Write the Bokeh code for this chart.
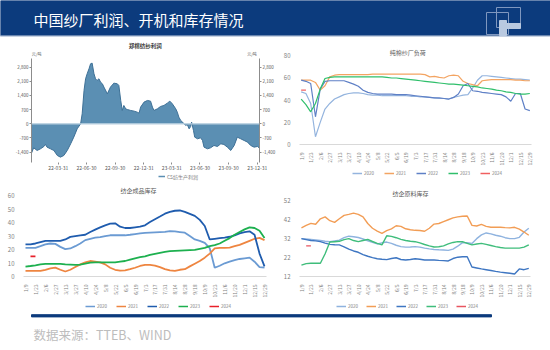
import pandas as pd
from math import pi
from bokeh.plotting import figure
from bokeh.layouts import column, row
from bokeh.models import (LinearAxis, Range1d, FixedTicker, Label, Legend, LegendItem,
                          Span, NumeralTickFormatter)
from bokeh.embed import file_html
from bokeh.resources import INLINE

CJK = "Noto Sans CJK SC"

# ---------------- data ----------------
profit_dates = ["2022-01-04", "2022-01-11", "2022-01-22", "2022-02-02", "2022-02-13", "2022-02-18",
                "2022-02-23", "2022-03-06", "2022-03-17", "2022-03-28", "2022-04-07", "2022-04-18",
                "2022-04-29", "2022-05-10", "2022-05-20", "2022-05-31", "2022-06-11", "2022-06-16",
                "2022-06-22", "2022-06-27", "2022-07-02", "2022-07-08", "2022-07-13", "2022-07-18",
                "2022-07-24", "2022-07-29", "2022-08-03", "2022-08-09", "2022-08-14", "2022-08-20",
                "2022-08-25", "2022-09-05", "2022-09-15", "2022-09-26", "2022-10-07", "2022-10-12",
                "2022-10-18", "2022-10-23", "2022-10-28", "2022-11-03", "2022-11-08", "2022-11-19",
                "2022-11-30", "2022-12-10", "2022-12-16", "2022-12-21", "2023-01-01", "2023-01-12",
                "2023-01-22", "2023-01-28", "2023-02-02", "2023-02-13", "2023-02-23", "2023-03-06",
                "2023-03-17", "2023-03-25", "2023-04-02", "2023-04-13", "2023-04-18", "2023-04-23",
                "2023-04-29", "2023-05-10", "2023-05-15", "2023-05-20", "2023-05-26", "2023-05-31",
                "2023-06-03", "2023-06-09", "2023-06-13", "2023-06-22", "2023-07-02", "2023-07-08",
                "2023-07-13", "2023-07-24", "2023-08-03", "2023-08-14", "2023-08-25", "2023-09-05",
                "2023-09-15", "2023-09-26", "2023-10-07", "2023-10-18", "2023-10-28", "2023-11-08",
                "2023-11-19", "2023-11-30", "2023-12-10", "2023-12-21", "2024-01-01", "2024-01-06"]
profit_values = [-1450, -1186, -1318, -1235, -1120, -1021, -1153, -1235, -1318, -1565, -1647, -1565,
                 -1318, -988, -659, -247, 0, 494, 1647, 2223, 2470, 2718, 2965, 2998,
                 2470, 2223, 2141, 2223, 2059, 1976, 1812, 1482, 1812, 2009, 1976, 1894,
                 1153, 659, 906, 741, 708, 659, 626, 576, 527, 824, 1071, 1153,
                 1120, 824, 659, 741, 856, 906, 1021, 1120, 988, 741, 576, 329,
                 165, 0, -82, -33, -247, -132, 82, -329, -659, -741, -692, -824,
                 -1153, -1235, -1186, -1071, -1120, -988, -1021, -1153, -1318, -1071, -659, -741,
                 -824, -906, -1071, -1153, -1120, -1186]
profit_ticks = [-1400, -700, 0, 700, 1400, 2100, 2800]
profit_xlabels = ["22-03-31", "22-06-30", "22-09-30", "22-12-31",
                  "23-03-31", "23-06-30", "23-09-30", "23-12-31"]
profit_name = "CS纺生产利润"

weeks = ["1/9", "1/16", "1/23", "1/30", "2/6", "2/20", "2/27", "3/6", "3/13", "3/20", "3/27",
         "4/3", "4/10", "4/17", "4/24", "5/1", "5/8", "5/15", "5/22", "5/29", "6/5", "6/12",
         "6/19", "6/26", "7/3", "7/10", "7/17", "7/24", "7/31", "8/7", "8/14", "8/21", "8/28",
         "9/11", "9/18", "9/25", "10/9", "10/16", "10/23", "10/30", "11/6", "11/13", "11/20",
         "11/27", "12/1", "12/8", "12/15", "12/22", "12/29"]
years = ["2020", "2021", "2022", "2023", "2024"]

# 纯棉纱厂负荷
load_2020 = [47.5, 46, 37, 7, 20, 32, 37, 41, 43, 45, 46, 46.5, 46.5, 46, 45, 44.5, 44.5, 44, 44, 44,
             44, 44, 44, 43.5, 43.5, 43, 43, 42.5, 42, 41.5, 41.5, 41, 42.5, 43.5, 44.5, 45, 51, 58,
             62, 62, 61.5, 61, 60.5, 60, 59.5, 59, 59, 58.5, 58]
load_2021 = [58, 58, 58, 56, 49, 53, 61, 62.5, 63, 63, 63, 63, 63, 63, 63, 63.5, 63.5, 63.5, 63.5,
             63.5, 63.5, 63.5, 63.5, 63.5, 63.5, 63.5, 63, 61, 61.5, 60.5, 60, 62, 62.5, 62, 57, 55,
             54, 53, 57.5, 58, 58.5, 58.5, 58.5, 58.5, 58.5, 58, 58, 57.5, 57.5]
load_2022 = [58, 57, 55, 25, 50, 57, 57.5, 57.5, 57.5, 57.5, 56, 54.5, 52.5, 49, 47, 46, 45.5, 45.5,
             45.5, 45.5, 45, 45, 45, 44.5, 44, 43.5, 43, 42.5, 42, 42, 41.5, 41, 42.5, 45.5, 53, 55,
             48.5, 48, 47, 46.5, 46, 45.5, 45, 43, 39, 46, 46, 32, 30.5]
load_2023 = [41, 36, 29.5, 37, 50, 59.5, 60.5, 61, 61, 61, 61, 61, 61, 61, 61, 61, 61, 61, 60.5, 60,
             60, 59.5, 59, 58.5, 58, 57.5, 57, 56.5, 56, 55.5, 55, 54.5, 54.5, 54, 53.5, 53, 52.5,
             52, 51, 50.5, 50, 49, 48.5, 47.5, 47, 46, 45.5, 45.5, 46]
load_2024 = [49, 49]
load_2024_idx = [0, 1]

# 纺企成品库存
fin_2020 = [21.3, 21.3, 21.3, 22.5, 23.8, 24.5, 24.2, 22, 20.3, 20.8, 22.5, 24.5, 27, 28, 28.8, 29.2,
            30, 30.6, 30.6, 30.6, 30.6, 31, 31.5, 32, 32.4, 32.6, 32.8, 33, 33.1, 33.6, 33.5, 33,
            32.5, 30, 27.5, 26.5, 25, 21, 6.5, 8, 9.8, 11, 12.2, 13, 13.5, 14, 11, 7, 6.6]
fin_2021 = [4.2, 4.2, 4.2, 4.2, 5, 6, 6.6, 5, 3.7, 5, 7, 9, 10.5, 11.5, 11, 10.5, 9, 6.5, 5, 4.4,
            4.6, 5.4, 6.5, 7.8, 8.6, 8.6, 8.1, 7, 5.5, 4.5, 4.2, 5, 5.4, 7.5, 9.5, 11.5, 14, 17,
            20.8, 21.3, 21.3, 21.5, 22.5, 23.5, 25, 26.5, 28, 28.7, 27]
fin_2022 = [23.8, 23.8, 24.5, 25.5, 26.5, 26.5, 26.5, 26.5, 27.5, 29.4, 30, 30.5, 31, 33, 34.8,
            36.5, 38, 39.2, 39.5, 37, 36, 36, 36.5, 37, 38, 40.4, 42.5, 44.5, 46.6, 48, 48.8, 49,
            48, 46.5, 45, 42, 37.5, 27.5, 28, 28.5, 28.8, 29.5, 30.5, 32, 33, 33.5, 31, 17, 7.5]
fin_2023 = [7.4, 7.8, 8.3, 9, 9.3, 9.3, 9.3, 9.3, 9, 8.8, 8.6, 8.8, 9.5, 10.3, 10.5, 10.5, 10.5,
            10.5, 10.5, 11, 11.5, 12.5, 13.5, 14.3, 15, 16, 16.8, 17.5, 18.2, 18.8, 19, 19.2, 19.4,
            19.6, 19.8, 20.5, 21.2, 22.5, 23.3, 24.5, 26.5, 28.5, 31, 33, 35, 36.5, 36, 34, 28.5]
fin_2024 = [15, 15]
fin_2024_idx = [1, 2]

# 纺企原料库存
raw_2020 = [32, 31.8, 31.6, 31.3, 31, 30.6, 30.4, 30.8, 31.2, 32.5, 33.3, 33, 32.6, 31.8, 30.9, 30,
            29.2, 29.8, 30.2, 29.5, 28.5, 27.8, 27.5, 27.6, 27.8, 27.5, 27, 26.6, 26.3, 26.1, 26,
            25.8, 26.5, 28, 29.9, 29.8, 29.5, 32, 34, 35, 34.5, 33.8, 33.3, 32.5, 32, 32, 32.7,
            35.5, 37.5]
raw_2021 = [37.7, 39, 40.1, 39.6, 42.5, 43.5, 41.5, 40.6, 42.5, 44.3, 44.8, 45.5, 44.8, 43.5, 40,
            37.5, 36, 34.8, 36.2, 37.2, 38.8, 38.5, 37.2, 36.7, 36.4, 36.3, 35.9, 37.5, 39.7, 40, 41,
            42, 43, 43.5, 43.8, 44, 39, 38.7, 39.5, 38.5, 38, 38, 38, 37.8, 37.7, 38, 37, 35.5, 33.8]
raw_2022 = [32, 31.5, 31, 30.8, 30.4, 29.6, 29, 28.8, 28.7, 27.7, 26.5, 25.5, 24.8, 23.6, 22.7, 22,
            21.4, 21.1, 20.9, 21.5, 21.9, 21, 20.7, 21, 21.4, 21.1, 20.7, 20.7, 20.7, 20.5, 20.4,
            20.2, 21.5, 22.2, 22.4, 22.4, 17, 16.5, 16, 15.6, 15.2, 14.7, 14.3, 14, 13.7, 13.3, 16,
            15.6, 16.3]
raw_2023 = [18, 18.8, 19, 19, 19, 24, 30.2, 30.4, 30.6, 31.5, 32, 31, 30.4, 31, 31.6, 30.5, 29.5,
            28.7, 33.5, 33.2, 32.5, 31.6, 31, 30.6, 30.4, 29.8, 28.9, 28.2, 27.6, 27.7, 28.2, 29.2,
            30, 30.4, 30.4, 29.5, 28.7, 29.2, 29.5, 29, 28.4, 27.8, 27.3, 27, 27, 27, 27, 27.5, 28.7]
raw_2024 = [28.2, 28.2]
raw_2024_idx = [1, 2]

BLUE = "#0c3b7d"
GREY_TXT = "#7f7f7f"
TR_COLORS = ["#94b4de", "#f3a462", "#5f80c6", "#2fbf6b", "#f06060"]
BL_COLORS = ["#6b9bd3", "#ee8540", "#1f5cae", "#1db04f", "#e8202a"]
BR_COLORS = ["#8fb3df", "#f29d55", "#3e76c2", "#3fbd7b", "#e85560"]
AREA_FILL = "#5b8fb3"


def bare(fig):
    fig.outline_line_color = None
    fig.grid.visible = False
    fig.background_fill_color = "white"
    fig.border_fill_color = "white"


def panel_fig(w, h):
    f = figure(width=w, height=h, x_range=Range1d(0, w), y_range=Range1d(0, h),
               output_backend="svg", toolbar_location=None, min_border=0,
               x_axis_location=None, y_axis_location=None)
    bare(f)
    return f


def legend_strip(w, h, labels, colors, loc, spacing, glyph_width=10, font="4.5px"):
    s = panel_fig(w, h)
    items = []
    for lab, col in zip(labels, colors):
        # sample-only renderer placed outside the visible range
        r = s.line(x=[-20, -10], y=[-20, -20], line_color=col, line_width=1.5)
        items.append(LegendItem(label=lab, renderers=[r]))
    s.add_layout(Legend(items=items, location=loc, orientation="horizontal", padding=0,
                        margin=0, spacing=spacing, glyph_width=glyph_width, glyph_height=6,
                        label_standoff=2, label_height=6, label_width=12,
                        label_text_font_size=font, label_text_font=CJK,
                        label_text_color=GREY_TXT, border_line_color=None,
                        background_fill_alpha=0))
    return s


# ---------------- header ----------------
hdr = panel_fig(550, 37)
hdr.quad(left=[0], right=[550], bottom=[2], top=[37], color=BLUE)
hdr.quad(left=[0], right=[550], bottom=[0.5], top=[1.5], color="#c8d2e2")
hdr.add_layout(Label(x=33, y=18.5, text="中国纱厂利润、开机和库存情况", text_color="white",
                     text_font_size="15px", text_font=CJK, text_baseline="middle"))
hdr.quad(left=[486], right=[508], bottom=[3], top=[25], fill_color=None, line_color="#7f97bf",
         line_width=1)
hdr.quad(left=[496], right=[520], bottom=[10], top=[30], fill_color=None, line_color="#7f97bf",
         line_width=1)
hdr.quad(left=[499, 506], right=[506, 520], bottom=[2, 9], top=[17, 14], color="#b9c9e0")

# ---------------- top-left: profit ----------------
base = pd.Timestamp("2022-01-01")
px = [(pd.Timestamp(d) - base).days for d in profit_dates]
tick_x = [(pd.Timestamp("20" + s) - base).days for s in profit_xlabels]

tl = figure(width=280, height=136, x_range=Range1d(3, 736.4), y_range=Range1d(-1912, 4066),
            output_backend="svg", toolbar_location=None,
            min_border_left=31, min_border_right=21, min_border_top=4, min_border_bottom=11)
bare(tl)
tl.varea(x=px, y1=0, y2=profit_values, fill_color=AREA_FILL)
tl.line(x=px, y=profit_values, line_color="#3e7096", line_width=1)
tl.add_layout(Span(location=0, dimension="width", line_color="#b9d0e0", line_width=1.2))
tl.yaxis.ticker = FixedTicker(ticks=profit_ticks)
tl.yaxis.formatter = NumeralTickFormatter(format="0,0")
ra = LinearAxis(ticker=FixedTicker(ticks=profit_ticks), formatter=NumeralTickFormatter(format="0,0"))
tl.add_layout(ra, "right")
tl.xaxis.ticker = FixedTicker(ticks=tick_x)
tl.xaxis.major_label_overrides = dict(zip(tick_x, profit_xlabels))
for ax in tl.yaxis + [ra]:
    ax.bounds = (-1912, 3226)
    ax.axis_line_color = "#8c8c8c"
    ax.major_tick_line_color = "#8c8c8c"
    ax.major_tick_out = 2
    ax.major_tick_in = 0
    ax.minor_tick_line_color = None
    ax.major_label_text_font_size = "4.5px"
    ax.major_label_text_color = "#595959"
    ax.major_label_standoff = 1
    ax.major_label_text_font = CJK
tl.xaxis.axis_line_color = None
tl.xaxis.major_tick_line_color = "#8c8c8c"
tl.xaxis.major_tick_out = 2
tl.xaxis.major_tick_in = 0
tl.xaxis.minor_tick_line_color = None
tl.xaxis.major_label_text_font_size = "5px"
tl.xaxis.major_label_text_color = "#595959"
tl.xaxis.major_label_standoff = 1
tl.xaxis.major_label_text_font = CJK
tl.add_layout(Label(x=316, y=3819, text="郑棉纺纱利润", text_font_size="5.5px", text_font=CJK,
                    text_font_style="bold", text_color="#404040", text_align="left",
                    text_baseline="middle"))
tl.add_layout(Label(x=4, y=3473, text="元/吨", text_font_size="4px", text_font=CJK,
                    text_color="#595959", text_align="left", text_baseline="middle"))
tl.add_layout(Label(x=697, y=3473, text="元/吨", text_font_size="4px", text_font=CJK,
                    text_color="#595959", text_align="left", text_baseline="middle"))
tl_leg = legend_strip(280, 8, [profit_name], [AREA_FILL], (127, 1.5), 0, glyph_width=7,
                      font="5px")


# ---------------- weekly line charts ----------------
def week_chart(width, height, xr, yr, yticks, borders, title, title_xy, series, colors, lw):
    f = figure(width=width, height=height, x_range=Range1d(*xr), y_range=Range1d(*yr),
               output_backend="svg", toolbar_location=None,
               min_border_left=borders[0], min_border_right=borders[1],
               min_border_top=borders[2], min_border_bottom=borders[3])
    bare(f)
    for (xs, ys), col in zip(series, colors):
        f.line(x=xs, y=ys, line_color=col, line_width=lw)
    f.yaxis.ticker = FixedTicker(ticks=yticks)
    f.yaxis.axis_line_color = None
    f.yaxis.major_tick_line_color = None
    f.yaxis.minor_tick_line_color = None
    f.yaxis.major_label_text_font_size = "6px"
    f.yaxis.major_label_text_color = GREY_TXT
    f.yaxis.major_label_text_font = CJK
    f.yaxis.major_label_standoff = 3
    ticks = list(range(0, len(weeks), 2))
    f.xaxis.ticker = FixedTicker(ticks=ticks)
    f.xaxis.major_label_overrides = {i: weeks[i] for i in ticks}
    f.xaxis.major_label_orientation = pi / 2
    f.xaxis.axis_line_color = "#d9d9d9"
    f.xaxis.major_tick_line_color = None
    f.xaxis.minor_tick_line_color = None
    f.xaxis.major_label_text_font_size = "5px"
    f.xaxis.major_label_text_color = GREY_TXT
    f.xaxis.major_label_text_font = CJK
    f.xaxis.major_label_standoff = 2
    f.add_layout(Label(x=title_xy[0], y=title_xy[1], text=title, text_font_size="6px",
                       text_font=CJK, text_color="#595959", text_align="left",
                       text_baseline="middle"))
    return f


idx = list(range(len(weeks)))

tr = week_chart(270, 131, (-0.35, 48.35), (0, 87.5), [0, 20, 40, 60, 80], (15, 19, 10, 23),
                "纯棉纱厂负荷", (18.6, 83.3),
                [(idx, load_2020), (idx, load_2021), (idx, load_2022), (idx, load_2023),
                 (load_2024_idx, load_2024)], TR_COLORS, 1.2)
tr_leg = legend_strip(270, 13, years, TR_COLORS, (53, 5.2), 8)

bl = week_chart(280, 119, (-0.4, 48.4), (0, 66.8), [0, 10, 20, 30, 40, 50, 60], (23, 14, 5, 23),
                "纺企成品库存", (19.1, 63.9),
                [(idx, fin_2020), (idx, fin_2021), (idx, fin_2022), (idx, fin_2023),
                 (fin_2024_idx, fin_2024)], BL_COLORS, 1.8)
bl_leg = legend_strip(280, 11, years, BL_COLORS, (62, 2.5), 7)

br = week_chart(270, 119, (-0.41, 48.36), (12, 58.5), [12, 22, 32, 42, 52], (13, 20, 7, 21),
                "纺企原料库存", (19.2, 55.8),
                [(idx, raw_2020), (idx, raw_2021), (idx, raw_2022), (idx, raw_2023),
                 (raw_2024_idx, raw_2024)], BR_COLORS, 1.4)
br_leg = legend_strip(270, 11, years, BR_COLORS, (37, 2.5), 6)

# ---------------- footer ----------------
ftr = panel_fig(550, 39)
ftr.quad(left=[31], right=[491], bottom=[33.6], top=[35.8], color=BLUE)
ftr.add_layout(Label(x=33, y=16, text="数据来源：TTEB、WIND", text_color="#bdbdbd",
                     text_font_size="12.5px", text_font=CJK, text_baseline="middle"))

page = column(hdr,
              row(column(tl, tl_leg), column(tr, tr_leg)),
              row(column(bl, bl_leg), column(br, br_leg)),
              ftr)
open("out.html", "w").write(file_html(page, INLINE))
